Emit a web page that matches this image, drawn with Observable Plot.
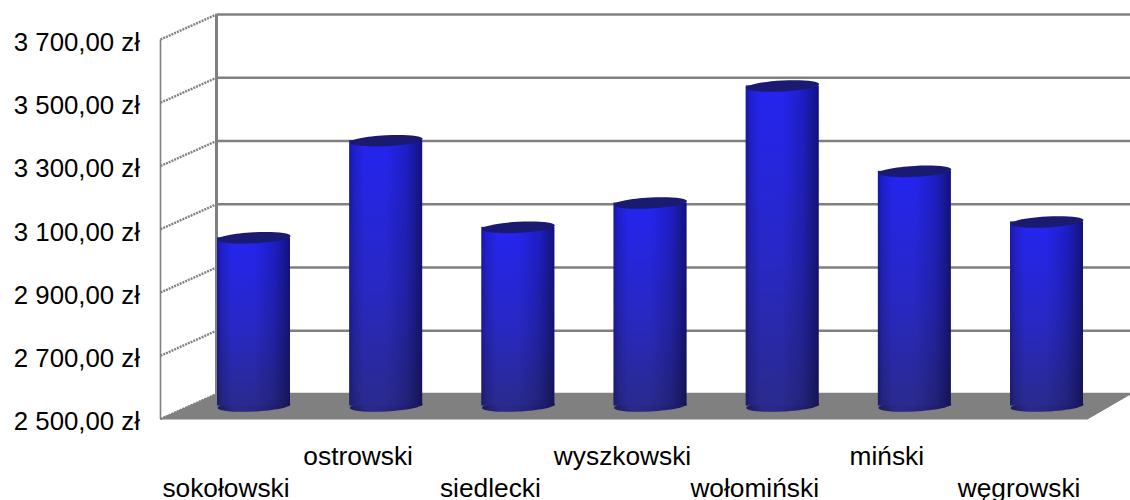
<!DOCTYPE html>
<html><head><meta charset="utf-8">
<style>html,body{margin:0;padding:0;background:#fff}svg{display:block}</style>
<script src="https://cdn.jsdelivr.net/npm/d3@7"></script>
<script src="https://cdn.jsdelivr.net/npm/@observablehq/plot@0.6"></script>
</head><body><div id="c"></div>
<script>
const categories = ["sokołowski","ostrowski","siedlecki","wyszkowski","wołomiński","miński","węgrowski"];
const values = [3035,3342,3068,3145,3515,3245,3085];
const yTicks = [2500,2700,2900,3100,3300,3500,3700];
const tickLabels = ["2 500,00 zł","2 700,00 zł","2 900,00 zł","3 100,00 zł","3 300,00 zł","3 500,00 zł","3 700,00 zł"];

// projection of the 3-D box, in scale units
const slotPx = 132.17;
const depthV = 79;                 // how far the back wall is raised, in value units
const midDepthV = 38;              // bars stand half way along the floor
const footV = 41;
const frontL = (160-253.5)/slotPx, backL = (216-253.5)/slotPx;
const frontR = (1087-253.5)/slotPx, backR = (1130-253.5)/slotPx;
const barHalf = 0.276;

const bars = categories.map((name,i)=>({name,i,value:values[i],odd:i%2===1}));
const grid = "#808080";
const ellipse = {draw(ctx,size){
  const rx=36.5, ry=5.5, k=0.5523;
  ctx.moveTo(-rx,0);
  ctx.bezierCurveTo(-rx,-ry*k,-rx*k,-ry,0,-ry);
  ctx.bezierCurveTo(rx*k,-ry,rx,-ry*k,rx,0);
  ctx.bezierCurveTo(rx,ry*k,rx*k,ry,0,ry);
  ctx.bezierCurveTo(-rx*k,ry,-rx,ry*k,-rx,0);
  ctx.closePath();
}};
const font = {fontSize:26.3, fontFamily:"'Liberation Sans', Arial, sans-serif", fill:"#000"};

const chart = Plot.plot({
  width:1130, height:500, marginTop:0, marginLeft:0, marginRight:0, marginBottom:0,
  style:{background:"#fff", fontFamily:"'Liberation Sans', Arial, sans-serif", overflow:"visible"},
  x:{type:"linear", domain:[-253.5/slotPx,(1130-253.5)/slotPx], range:[0,1130], axis:null},
  y:{type:"linear", domain:[2500,3700], range:[418.5,39], axis:null},
  marks:[
    // floor
    Plot.line([[frontL,2500],[backL,2500+depthV],[backR,2500+depthV],[frontR,2500],[frontL,2500]],
      {x:d=>d[0],y:d=>d[1],fill:grid,stroke:grid,strokeWidth:1}),
    // back wall grid
    Plot.link(yTicks,{x1:backL,x2:backR,y1:d=>d+depthV,y2:d=>d+depthV,stroke:grid,strokeWidth:2.6}),
    Plot.link([0],{x1:backL,x2:backL,y1:2500+depthV,y2:3700+depthV,stroke:grid,strokeWidth:3}),
    // side wall
    Plot.link([0],{x1:frontL,x2:frontL,y1:2500,y2:3700,stroke:grid,strokeWidth:1.6}),
    Plot.link(yTicks,{x1:frontL,x2:backL,y1:d=>d,y2:d=>d+depthV,stroke:grid,strokeWidth:2.4,strokeDasharray:"2 1"}),
    // bottom ellipse
    Plot.dot(bars,{x:"i",y:()=>2500+footV,symbol:ellipse,r:5,fill:"url(#barBot)",rotate:-3,stroke:"none"}),
    // cylinder body
    Plot.rectY(bars,{x1:d=>d.i-barHalf,x2:d=>d.i+barHalf,y1:()=>2500+footV,y2:d=>d.value+midDepthV,fill:"url(#barV)"}),
    Plot.rectY(bars,{x1:d=>d.i-barHalf,x2:d=>d.i+barHalf,y1:()=>2500+footV,y2:d=>d.value+midDepthV,fill:"url(#barH)"}),
    // top cap
    Plot.dot(bars,{x:"i",y:d=>d.value+midDepthV,symbol:ellipse,r:5,fill:"#1a1a70",rotate:-3,stroke:"none"}),
    // labels
    Plot.text(yTicks,{x:frontL,y:d=>d,text:d=>tickLabels[yTicks.indexOf(d)],textAnchor:"end",dx:-20.5,dy:3,...font,fontSize:25.8}),
    Plot.text(bars.filter(d=>!d.odd),{x:"i",frameAnchor:"bottom",lineAnchor:"middle",dx:-28,dy:-12,text:"name",...font}),
    Plot.text(bars.filter(d=>d.odd),{x:"i",frameAnchor:"bottom",lineAnchor:"middle",dx:-28,dy:-44,text:"name",...font})
  ]
});
const defs = d3.select(chart).insert("defs",":first-child");
const v = defs.append("linearGradient").attr("id","barV").attr("x1",0).attr("x2",0).attr("y1",0).attr("y2",1);
v.append("stop").attr("offset",0).attr("stop-color","#2424f0");
v.append("stop").attr("offset",0.55).attr("stop-color","#2828c4");
v.append("stop").attr("offset",1).attr("stop-color","#2a2a8e");
const h = defs.append("linearGradient").attr("id","barH");
[[0,0.4],[0.06,0.18],[0.2,0],[0.5,0],[0.78,0.2],[0.93,0.45],[1,0.6]].forEach(([o,a])=>
  h.append("stop").attr("offset",o).attr("stop-color","#05052a").attr("stop-opacity",a));
const b = defs.append("linearGradient").attr("id","barBot");
[[0,"#1c1c5c"],[0.25,"#2a2a8c"],[0.6,"#252580"],[1,"#15155a"]].forEach(([o,c])=>
  b.append("stop").attr("offset",o).attr("stop-color",c));
document.getElementById("c").append(chart);
</script></body></html>
